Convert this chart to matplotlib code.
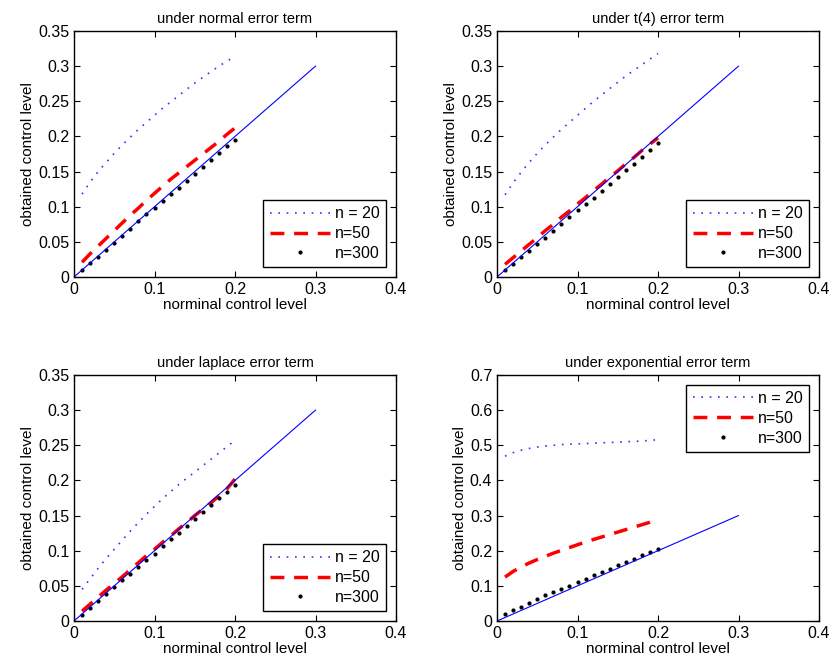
import numpy as np
import matplotlib
matplotlib.use("agg")
import matplotlib.pyplot as plt

x = np.round(np.arange(1, 21) * 0.01, 2)
ref = [0, 0.3]

titles = ['under normal error term', 'under t(4) error term',
          'under laplace error term', 'under exponential error term']

normal_20 = [0.118, 0.135, 0.150, 0.163, 0.176, 0.188, 0.199, 0.210, 0.220, 0.230,
             0.240, 0.249, 0.258, 0.267, 0.276, 0.284, 0.292, 0.300, 0.307, 0.314]
normal_50 = [0.021, 0.033, 0.044, 0.055, 0.066, 0.077, 0.088, 0.098, 0.109, 0.119,
             0.129, 0.139, 0.148, 0.157, 0.166, 0.175, 0.184, 0.193, 0.203, 0.212]
normal_300 = [0.0095, 0.0195, 0.029, 0.039, 0.049, 0.059, 0.069, 0.079, 0.089, 0.098,
              0.108, 0.118, 0.127, 0.137, 0.147, 0.156, 0.166, 0.176, 0.186, 0.195]

t4_20 = [0.117, 0.134, 0.149, 0.163, 0.176, 0.188, 0.199, 0.210, 0.220, 0.230,
         0.240, 0.250, 0.259, 0.268, 0.277, 0.286, 0.294, 0.302, 0.310, 0.318]
t4_50 = [0.018, 0.0275, 0.037, 0.0465, 0.056, 0.066, 0.075, 0.085, 0.094, 0.104,
         0.113, 0.123, 0.132, 0.142, 0.151, 0.161, 0.170, 0.180, 0.189, 0.198]
t4_300 = [0.010, 0.019, 0.028, 0.037, 0.047, 0.056, 0.066, 0.075, 0.085, 0.095,
          0.104, 0.113, 0.123, 0.132, 0.142, 0.152, 0.161, 0.171, 0.181, 0.190]

laplace_20 = [0.045, 0.060, 0.075, 0.089, 0.102, 0.115, 0.128, 0.140, 0.152, 0.163,
              0.174, 0.184, 0.194, 0.203, 0.212, 0.221, 0.230, 0.239, 0.248, 0.257]
laplace_50 = [0.014, 0.024, 0.034, 0.044, 0.053, 0.063, 0.073, 0.083, 0.093, 0.102,
              0.112, 0.121, 0.131, 0.140, 0.150, 0.159, 0.168, 0.178, 0.188, 0.202]
laplace_300 = [0.009, 0.019, 0.028, 0.038, 0.048, 0.058, 0.067, 0.077, 0.087, 0.096,
               0.106, 0.116, 0.125, 0.135, 0.145, 0.155, 0.165, 0.175, 0.184, 0.194]

expo_20 = [0.469, 0.479, 0.486, 0.491, 0.495, 0.498, 0.500, 0.502, 0.503, 0.504,
           0.505, 0.506, 0.507, 0.508, 0.509, 0.510, 0.511, 0.512, 0.514, 0.516]
expo_50 = [0.125, 0.141, 0.154, 0.165, 0.175, 0.184, 0.193, 0.201, 0.209, 0.217,
           0.225, 0.232, 0.239, 0.246, 0.253, 0.260, 0.267, 0.274, 0.281, 0.290]
expo_300 = [0.019, 0.030, 0.040, 0.052, 0.062, 0.073, 0.083, 0.092, 0.101, 0.111,
            0.120, 0.130, 0.139, 0.149, 0.158, 0.168, 0.177, 0.187, 0.196, 0.206]

series = [(normal_20, normal_50, normal_300),
          (t4_20, t4_50, t4_300),
          (laplace_20, laplace_50, laplace_300),
          (expo_20, expo_50, expo_300)]
ymax = [0.35, 0.35, 0.35, 0.7]
legend_loc = ['lower right', 'lower right', 'lower right', 'upper right']

plt.rcParams['font.family'] = ['Liberation Sans', 'DejaVu Sans']
plt.rcParams['font.size'] = 11

fig = plt.figure(figsize=(8.33, 6.66), dpi=100)
W, H = 833, 666
boxes = [(74, 31), (497, 31), (74, 375), (497, 375)]
aw, ah = 322, 246

for i, (bx, by) in enumerate(boxes):
    ax = fig.add_axes([bx / W, 1 - (by + ah) / H, aw / W, ah / H])
    s20, s50, s300 = series[i]
    ax.plot(x, s20, color='#3333ff', linestyle=(0, (1, 4)), lw=1.2, label='n = 20')
    ax.plot(x, s50, color='red', linestyle=(0, (4, 2.8)), lw=2.5, label='n=50')
    ax.plot(x, s300, 'k.', ms=4, label='n=300')
    ax.plot(ref, ref, color='blue', lw=0.8)
    ax.set_xlim(0, 0.4)
    ax.set_ylim(0, ymax[i])
    ax.set_xticks([0, 0.1, 0.2, 0.3, 0.4])
    ax.set_xticklabels(['0', '0.1', '0.2', '0.3', '0.4'])
    if ymax[i] > 0.5:
        yt = np.round(np.arange(0, 0.71, 0.1), 2)
    else:
        yt = np.round(np.arange(0, 0.351, 0.05), 2)
    ax.set_yticks(yt)
    ax.set_yticklabels(['%g' % v for v in yt])
    ax.tick_params(direction='in', top=True, right=True, length=4, labelsize=11.5)
    for sp in ax.spines.values():
        sp.set_linewidth(1.0)
    ax.set_title(titles[i], fontsize=10.5, pad=6)
    ax.set_xlabel('norminal control level', fontsize=11, labelpad=1)
    ax.set_ylabel('obtained control level', fontsize=11, labelpad=2)
    leg = ax.legend(loc=legend_loc[i], fancybox=False, framealpha=1,
                    edgecolor='black', fontsize=11.5, handlelength=3.8,
                    borderaxespad=0.6, labelspacing=0.3, handletextpad=0.3,
                    numpoints=1)
    leg.get_frame().set_linewidth(1.0)

fig.savefig('out.png', dpi=100)
